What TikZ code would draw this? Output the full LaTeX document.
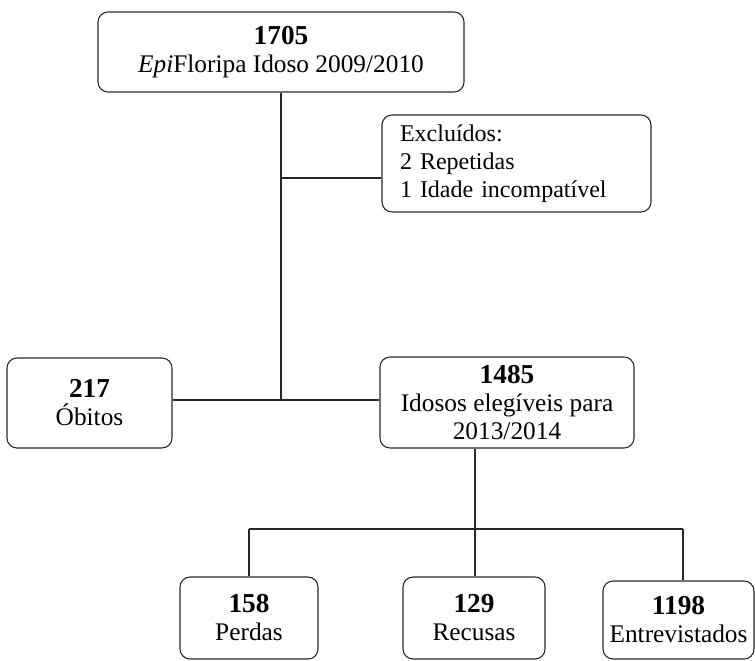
\documentclass[tikz,border=0pt]{standalone}
\usepackage{fontspec}
\setmainfont{Liberation Serif}
\usepackage{tikz}

\newcommand{\cnum}[1]{{\fontsize{20.5}{21}\selectfont\textbf{#1}}}

\tikzset{
  flowbox/.style={draw=black!85, line width=0.8pt, rounded corners=7.5pt, align=center,
    font=\fontsize{19}{21}\selectfont, inner sep=0pt},
  flowline/.style={draw=black!85, line width=0.8pt}
}

\begin{document}
\begin{tikzpicture}[x=0.75pt,y=-0.75pt]
  \useasboundingbox (0,0) rectangle (755,660);

  % boxes
  \node[flowbox, minimum width=274.5pt, minimum height=60pt] (Amostra) at (281,52)
    {\cnum{1705}\\\textit{Epi}Floripa Idoso 2009/2010};
  \node[flowbox, minimum width=201.75pt, minimum height=72.75pt, text width=174.75pt,
    align=left, inner xsep=13.5pt, font=\fontsize{18}{21}\selectfont] (Excluidos) at (516.5,163.5)
    {Excluídos:\\2 Repetidas\\1 Idade incompatível};
  \node[flowbox, minimum width=123.75pt, minimum height=67.5pt] (Obitos) at (89.5,403)
    {\cnum{217}\\Óbitos};
  \node[flowbox, minimum width=190.5pt, minimum height=68.25pt] (Elegiveis) at (507,402.5)
    {\cnum{1485}\\Idosos elegíveis para\\2013/2014};
  \node[flowbox, minimum width=103.5pt, minimum height=61.5pt] (Perdas) at (249,618)
    {\cnum{158}\\Perdas};
  \node[flowbox, minimum width=106.5pt, minimum height=61.5pt] (Recusas) at (474,618)
    {\cnum{129}\\Recusas};
  \node[flowbox, minimum width=113.25pt, minimum height=58.5pt] (Entrevistados) at (678.5,620)
    {\cnum{1198}\\Entrevistados};

  % junctions
  \coordinate (JExcl) at (281,178);
  \coordinate (JObitos) at (281,400);
  \coordinate (JBaixo) at (475,529);
  \coordinate (JEsq) at (249,529);
  \coordinate (JDir) at (683,529);

  % connectors
  \draw[flowline] (Amostra.south) -- (JObitos);
  \draw[flowline] (JExcl) -- (Excluidos.west |- JExcl);
  \draw[flowline] (Obitos.east |- JObitos) -- (Elegiveis.west |- JObitos);
  \draw[flowline] (Elegiveis.south -| JBaixo) -- (JBaixo);
  \draw[flowline] (JEsq) -- (JDir);
  \draw[flowline] (JEsq) -- (Perdas.north -| JEsq);
  \draw[flowline] (JBaixo) -- (Recusas.north -| JBaixo);
  \draw[flowline] (JDir) -- (Entrevistados.north -| JDir);
\end{tikzpicture}
\end{document}
